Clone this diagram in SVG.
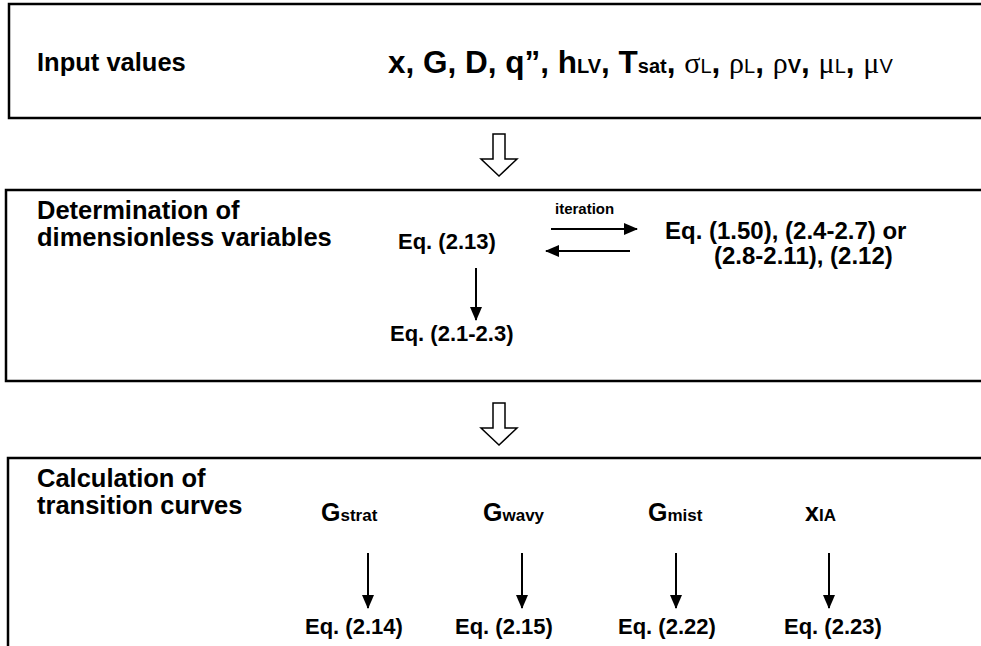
<svg xmlns="http://www.w3.org/2000/svg" width="981" height="646" viewBox="0 0 981 646">
<style>
.box{fill:#fff;stroke:#000;stroke-width:2.5}
.t{font-family:"Liberation Sans",Arial,sans-serif;font-weight:bold;font-size:22px;fill:#000}
.lab{font-size:25.5px}
.rt{font-size:24px}
.big{font-size:31.5px}
.sub{font-size:20px}
.sub2{font-size:17px}
.cap{font-size:25px}
.gr{font-family:"Liberation Serif","Times New Roman",serif;font-weight:normal;font-size:30px}
.it{font-size:15px}
.ln{stroke:#000;stroke-width:2;fill:none}
.hollow{fill:#fff;stroke:#000;stroke-width:1.5}
</style>
<defs>
<marker id="ah" markerWidth="14" markerHeight="12" refX="13" refY="6" orient="auto" markerUnits="userSpaceOnUse">
<path d="M0,0 L14,6 L0,12 Z" fill="#000"/>
</marker>
</defs>
<g id="input">
<rect class="box" x="9" y="4" width="985" height="114"/>
<text class="t lab" x="37" y="71">Input values</text>
<text class="t big" x="388" y="73">x, G, D, q”, h<tspan class="sub">LV</tspan>, T<tspan class="sub">sat</tspan>, <tspan class="gr">σ</tspan><tspan class="sub" font-weight="normal">L</tspan>, <tspan class="gr">ρ</tspan><tspan class="sub" font-weight="normal">L</tspan>, <tspan class="gr">ρ</tspan><tspan class="sub">V</tspan>, <tspan class="gr">μ</tspan><tspan class="sub" font-weight="normal">L</tspan>, <tspan class="gr">μ</tspan><tspan class="sub" font-weight="normal">V</tspan></text>
</g>
<g id="determination">
<rect class="box" x="6" y="190" width="990" height="191"/>
<text class="t lab" x="37" y="219">Determination of</text>
<text class="t lab" x="37" y="246">dimensionless variables</text>
<text class="t" x="398" y="249">Eq. (2.13)</text>
<text class="t it" x="555" y="214">iteration</text>
<text class="t rt" x="665" y="239">Eq. (1.50), (2.4-2.7) or</text>
<text class="t rt" x="714" y="264">(2.8-2.11), (2.12)</text>
<text class="t" x="390" y="341">Eq. (2.1-2.3)</text>
</g>
<g id="calculation">
<rect class="box" x="8" y="458" width="990" height="200"/>
<text class="t lab" x="37" y="487">Calculation of</text>
<text class="t lab" x="37" y="514">transition curves</text>
<text class="t" x="321" y="521"><tspan class="cap">G</tspan><tspan class="sub2">strat</tspan></text>
<text class="t" x="483" y="521"><tspan class="cap">G</tspan><tspan class="sub2">wavy</tspan></text>
<text class="t" x="648" y="521"><tspan class="cap">G</tspan><tspan class="sub2">mist</tspan></text>
<text class="t" x="805" y="521"><tspan class="cap" font-size="27">x</tspan><tspan class="sub2">IA</tspan></text>
<text class="t" x="305" y="634">Eq. (2.14)</text>
<text class="t" x="455" y="634">Eq. (2.15)</text>
<text class="t" x="618" y="634">Eq. (2.22)</text>
<text class="t" x="784" y="634">Eq. (2.23)</text>
</g>
<g id="connectors">
<path class="hollow" d="M493,134 L505,134 L505,159 L517,159 L499,176 L481,159 L493,159 Z"/>
<path class="hollow" d="M493,403 L505,403 L505,428 L517,428 L499,445 L481,428 L493,428 Z"/>
<line class="ln" x1="551" y1="229" x2="637" y2="229" marker-end="url(#ah)"/>
<line class="ln" x1="630" y1="251" x2="546" y2="251" marker-end="url(#ah)"/>
<line class="ln" x1="476" y1="268" x2="476" y2="320" marker-end="url(#ah)"/>
<line class="ln" x1="368" y1="553" x2="368" y2="608" marker-end="url(#ah)"/>
<line class="ln" x1="522" y1="553" x2="522" y2="608" marker-end="url(#ah)"/>
<line class="ln" x1="676" y1="553" x2="676" y2="608" marker-end="url(#ah)"/>
<line class="ln" x1="829" y1="553" x2="829" y2="608" marker-end="url(#ah)"/>
</g>
</svg>
